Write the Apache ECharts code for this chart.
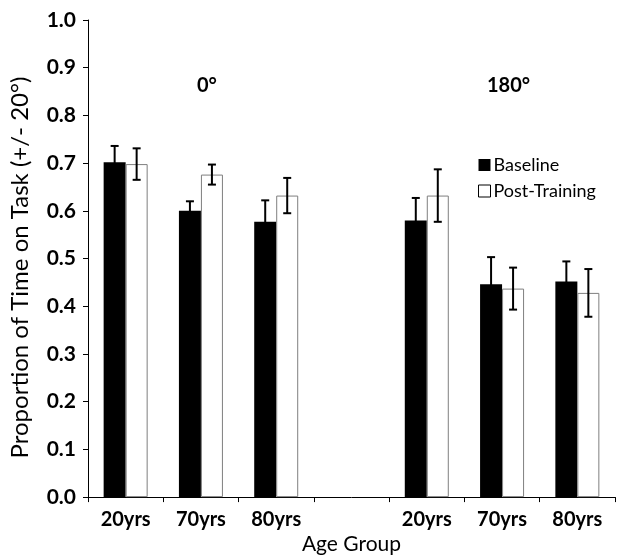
<!DOCTYPE html>
<html>
<head>
<meta charset="utf-8">
<script src="https://cdn.jsdelivr.net/npm/echarts@6/dist/echarts.min.js"></script>
<style>html,body{margin:0;padding:0;background:#fff}#c{width:625px;height:560px}</style>
</head>
<body>
<div id="c"></div>
<script>
var categories = ['20yrs', '70yrs', '80yrs', '', '20yrs', '70yrs', '80yrs'];
var baseline = [0.702, 0.600, 0.577, null, 0.580, 0.446, 0.452];
var baselineErr = [0.034, 0.020, 0.045, null, 0.047, 0.057, 0.042];
var post = [0.698, 0.676, 0.632, null, 0.632, 0.437, 0.428];
var postErr = [0.033, 0.021, 0.037, null, 0.055, 0.044, 0.050];
var groupLabels = ['0°', '180°'];
var yMin = 0, yMax = 1, yStep = 0.1;

var FONT = 'Lato';
var BAR_W = 22;

function errData(vals, errs) {
  var out = [];
  for (var i = 0; i < vals.length; i++) {
    if (vals[i] != null) out.push([i, vals[i], errs[i]]);
  }
  return out;
}
function errRender(offset) {
  return function (params, api) {
    var x = api.value(0), v = api.value(1), e = api.value(2);
    var pTop = api.coord([x, v + e]);
    var pBot = api.coord([x, v - e]);
    var cx = pTop[0] + offset;
    var cap = 4;
    var st = { stroke: '#000', lineWidth: 2 };
    return {
      type: 'group',
      children: [
        { type: 'line', shape: { x1: cx, y1: pTop[1], x2: cx, y2: pBot[1] }, style: st },
        { type: 'line', shape: { x1: cx - cap, y1: pTop[1], x2: cx + cap, y2: pTop[1] }, style: st },
        { type: 'line', shape: { x1: cx - cap, y1: pBot[1], x2: cx + cap, y2: pBot[1] }, style: st }
      ]
    };
  };
}

var chart = echarts.init(document.getElementById('c'), null, { renderer: 'canvas' });
chart.setOption({
  animation: false,
  backgroundColor: '#fff',
  grid: { left: 86, right: 10, top: 20, bottom: 56 },
  legend: {
    orient: 'vertical',
    left: 473, top: 151,
    itemWidth: 12, itemHeight: 12, itemGap: 8,
    icon: 'rect',
    textStyle: { fontFamily: FONT, fontSize: 18, color: '#000', padding: [0, 0, 0, -2] },
    data: [
      { name: 'Baseline', itemStyle: { color: '#000', borderWidth: 0 } },
      { name: 'Post-Training', itemStyle: { color: '#fff', borderColor: '#000', borderWidth: 1 } }
    ]
  },
  graphic: [
    { type: 'text', left: 197, top: 76, style: { text: groupLabels[0], font: 'bold 20px ' + FONT, fill: '#000' } },
    { type: 'text', left: 487, top: 76, style: { text: groupLabels[1], font: 'bold 20px ' + FONT, fill: '#000' } }
  ],
  xAxis: {
    type: 'category',
    data: categories,
    name: 'Age Group',
    nameLocation: 'middle',
    nameGap: 36,
    nameTextStyle: { fontFamily: FONT, fontSize: 21, color: '#000' },
    axisLine: { lineStyle: { color: '#000', width: 1 } },
    axisTick: { show: true, length: 5, lineStyle: { color: '#000' } },
    axisLabel: { fontFamily: FONT, fontSize: 20, fontWeight: 'bold', color: '#000', margin: 12 },
    splitLine: { show: false }
  },
  yAxis: {
    type: 'value',
    min: yMin, max: yMax, interval: yStep,
    name: 'Proportion of Time on Task (+/- 20°)',
    nameLocation: 'middle',
    nameGap: 56,
    nameTextStyle: { fontFamily: FONT, fontSize: 24, color: '#000', padding: [0, 0, 0, -18] },
    axisLine: { show: true, lineStyle: { color: '#000', width: 1 } },
    axisTick: { show: true, length: 5, lineStyle: { color: '#000' } },
    axisLabel: { fontFamily: FONT, fontSize: 21, fontWeight: 'bold', color: '#000', margin: 12,
      formatter: function (v) { return v.toFixed(1); } },
    splitLine: { show: false }
  },
  series: [
    {
      name: 'Baseline', type: 'bar', data: baseline,
      barWidth: BAR_W, barGap: '0%',
      itemStyle: { color: '#000' }
    },
    {
      name: 'Post-Training', type: 'bar', data: post,
      barWidth: BAR_W,
      itemStyle: { color: '#fff', borderColor: '#7f7f7f', borderWidth: 1 }
    },
    {
      name: 'errB', type: 'custom', data: errData(baseline, baselineErr),
      renderItem: errRender(-BAR_W / 2), z: 5, silent: true,
      encode: { x: 0, y: 1 }
    },
    {
      name: 'errP', type: 'custom', data: errData(post, postErr),
      renderItem: errRender(BAR_W / 2), z: 5, silent: true,
      encode: { x: 0, y: 1 }
    }
  ]
});
</script>
</body>
</html>
